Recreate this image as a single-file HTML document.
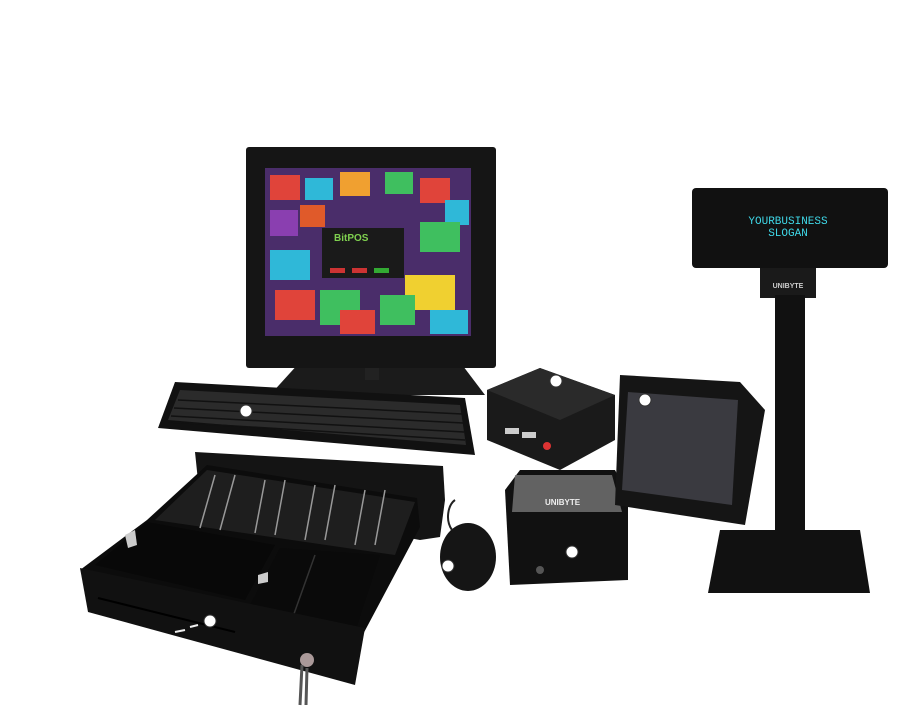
<!DOCTYPE html>
<html><head><meta charset="utf-8"><style>
html,body{margin:0;padding:0;background:#fff;width:910px;height:713px;overflow:hidden}
</style></head><body>
<svg width="910" height="713" viewBox="0 0 910 713" xmlns="http://www.w3.org/2000/svg" font-family="Liberation Sans, sans-serif">
<!-- Monitor stand -->
<polygon points="300,362 460,362 485,395 270,395" fill="#1b1b1b"/>
<rect x="365" y="350" width="14" height="30" fill="#222"/>
<!-- Monitor -->
<rect x="246" y="147" width="250" height="221" rx="3" fill="#151515"/>
<g>
<rect x="265" y="168" width="206" height="168" fill="#4a2d6a"/>
<rect x="270" y="175" width="30" height="25" fill="#e0443a"/><rect x="305" y="178" width="28" height="22" fill="#2fb8d8"/>
<rect x="340" y="172" width="30" height="24" fill="#f0a030"/><rect x="385" y="172" width="28" height="22" fill="#3fbf5f"/>
<rect x="420" y="178" width="30" height="25" fill="#e0443a"/><rect x="445" y="200" width="24" height="25" fill="#2fb8d8"/>
<rect x="270" y="210" width="28" height="26" fill="#8a3fb0"/><rect x="300" y="205" width="25" height="22" fill="#e05a2a"/>
<rect x="420" y="222" width="40" height="30" fill="#3fbf5f"/><rect x="270" y="250" width="40" height="30" fill="#2fb8d8"/>
<rect x="275" y="290" width="40" height="30" fill="#e0443a"/><rect x="320" y="290" width="40" height="35" fill="#3fbf5f"/>
<rect x="405" y="275" width="50" height="35" fill="#f0d030"/><rect x="380" y="295" width="35" height="30" fill="#3fbf5f"/>
<rect x="430" y="310" width="38" height="24" fill="#2fb8d8"/><rect x="340" y="310" width="35" height="24" fill="#e0443a"/>
<rect x="322" y="228" width="82" height="50" fill="#1a1a1a"/>
<text x="334" y="241" font-size="10" font-weight="bold" fill="#7fd04f">BitPOS</text>
<rect x="330" y="268" width="15" height="5" fill="#c33"/><rect x="352" y="268" width="15" height="5" fill="#c33"/><rect x="374" y="268" width="15" height="5" fill="#3a3"/>
</g>
<!-- Cash drawer housing -->
<polygon points="195,452 443,466 445,500 440,537 420,540 200,500" fill="#141414"/>
<!-- tray outer -->
<polygon points="207,465 417,498 420,527 360,640 80,570 147,520" fill="#0c0c0c"/>
<polygon points="207,470 415,502 395,555 155,520" fill="#1e1e1e"/>
<g stroke="#999" stroke-width="1.5" fill="none">
<path d="M215,475 L200,528 M235,475 L220,530 M265,480 L255,533 M285,480 L275,535 M315,485 L305,540 M335,485 L325,540 M365,490 L355,545 M385,490 L375,545"/>
</g>
<polygon points="147,522 275,545 245,600 95,565" fill="#080808"/>
<polygon points="280,548 380,555 355,632 250,605" fill="#0a0a0a"/>
<path d="M315,555 L290,625" stroke="#333" stroke-width="1.5"/>
<polygon points="125,535 135,530 137,545 128,548" fill="#ccc"/>
<polygon points="258,575 268,572 268,582 258,584" fill="#ccc"/>
<!-- front -->
<polygon points="80,568 365,628 355,685 88,612" fill="#111"/>
<line x1="98" y1="598" x2="235" y2="632" stroke="#000" stroke-width="2"/>
<path d="M175,632 L185,630 M190,627 L198,625" stroke="#eee" stroke-width="2"/>
<circle cx="210" cy="621" r="6" fill="#fff" stroke="#333"/>
<circle cx="307" cy="660" r="7" fill="#a99"/>
<path d="M302,665 L300,705 M307,668 L306,705" stroke="#555" stroke-width="3"/>
<!-- Keyboard -->
<polygon points="175,382 465,398 475,455 158,428" fill="#111"/>
<polygon points="180,390 460,405 466,445 168,420" fill="#2b2b2b"/>
<g stroke="#111" stroke-width="1.5">
<path d="M178,400 L462,414 M174,408 L463,423 M171,416 L464,432 M169,422 L465,440"/>
</g>
<circle cx="246" cy="411" r="6" fill="#fff" stroke="#333"/>
<!-- Mouse -->
<ellipse cx="468" cy="557" rx="28" ry="34" fill="#151515"/>
<path d="M452,530 C445,520 448,505 455,500" stroke="#222" stroke-width="2" fill="none"/>
<circle cx="448" cy="566" r="6" fill="#fff" stroke="#333"/>
<!-- Mini PC -->
<polygon points="487,390 540,368 615,395 615,440 560,470 487,440" fill="#1a1a1a"/>
<polygon points="487,390 540,368 615,395 560,420" fill="#2a2a2a"/>
<rect x="505" y="428" width="14" height="6" fill="#ccc"/><rect x="522" y="432" width="14" height="6" fill="#ccc"/>
<circle cx="547" cy="446" r="4" fill="#d33"/>
<circle cx="556" cy="381" r="6" fill="#fff" stroke="#333"/>
<!-- Printer -->
<polygon points="505,490 520,470 615,470 628,495 628,580 510,585" fill="#111"/>
<polygon points="515,475 612,475 622,512 512,512" fill="#777" opacity="0.8"/>
<text x="545" y="505" font-size="8" font-weight="bold" fill="#eee">UNIBYTE</text>
<circle cx="540" cy="570" r="4" fill="#555"/>
<circle cx="572" cy="552" r="6" fill="#fff" stroke="#333"/>
<!-- Scanner -->
<polygon points="620,375 740,382 765,410 745,525 615,505" fill="#151515"/>
<polygon points="628,392 738,400 732,505 622,490" fill="#3a3a40"/>
<circle cx="645" cy="400" r="6" fill="#fff" stroke="#333"/>
<!-- Pole display -->
<rect x="692" y="188" width="196" height="80" rx="4" fill="#111"/>
<text x="788" y="224" font-size="11" font-family="Liberation Mono, monospace" fill="#3fd8e8" text-anchor="middle">YOURBUSINESS</text>
<text x="788" y="236" font-size="11" font-family="Liberation Mono, monospace" fill="#3fd8e8" text-anchor="middle">SLOGAN</text>
<rect x="760" y="268" width="56" height="30" fill="#1a1a1a"/>
<text x="788" y="288" font-size="7" font-weight="bold" fill="#ccc" text-anchor="middle">UNIBYTE</text>
<rect x="775" y="295" width="30" height="240" fill="#111"/>
<polygon points="720,530 860,530 870,593 708,593" fill="#111"/>
</svg>
</body></html>
